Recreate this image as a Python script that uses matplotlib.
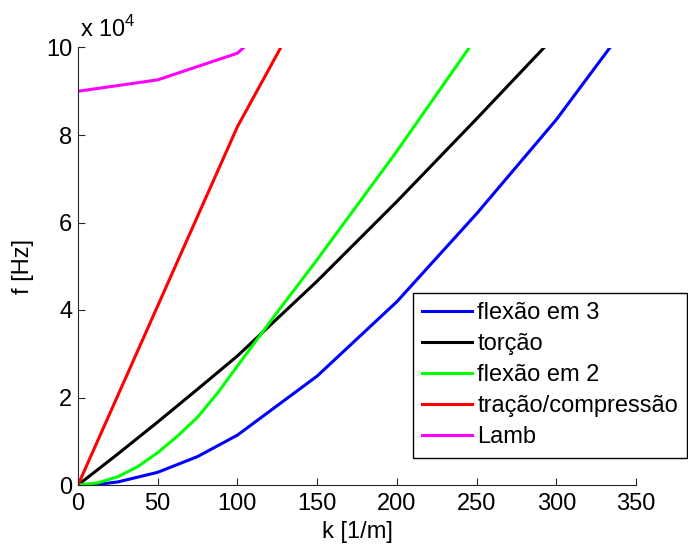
import matplotlib
matplotlib.use("Agg")
import matplotlib.pyplot as plt
from matplotlib.ticker import FuncFormatter

plt.rcParams['font.family'] = ['Liberation Sans', 'DejaVu Sans']
plt.rcParams['mathtext.fontset'] = 'custom'
plt.rcParams['mathtext.rm'] = 'Liberation Sans'

# data (k in 1/m, f in Hz)
k_flex3 = [0, 12.5, 25, 50, 75, 100, 150, 200, 250, 300, 333.7]
f_flex3 = [0, 150, 700, 2900, 6500, 11400, 24900, 41900, 62000, 83500, 100000]

k_torc = [0, 25, 50, 75, 100, 150, 200, 250, 292.4]
f_torc = [0, 7100, 14400, 21900, 29500, 46600, 64800, 83700, 100000]

k_flex2 = [0, 12.5, 25, 37.5, 50, 62.5, 75, 87.5, 100, 125, 150, 200, 245.5]
f_flex2 = [0, 500, 1900, 4200, 7400, 11200, 15500, 21000, 27200, 39500, 51500, 76300, 100000]

k_trac = [0, 50, 100, 127.2]
f_trac = [0, 40950, 81900, 100000]

k_lamb = [0, 50, 100, 104]
f_lamb = [90000, 92600, 98700, 100000]

labels = ['flexão em 3', 'torção', 'flexão em 2', 'tração/compressão', 'Lamb']
colors = ['#0000ff', '#000000', '#00ff00', '#ff0000', '#ff00ff']

FS = 17

fig = plt.figure(figsize=(6.88, 5.44), dpi=100)
ax = fig.add_axes([78/688, 1-485/544, (636-78)/688, (485-47.5)/544])

series = [(k_flex3, f_flex3), (k_torc, f_torc), (k_flex2, f_flex2),
          (k_trac, f_trac), (k_lamb, f_lamb)]
for (k, f), lab, c in zip(series, labels, colors):
    ax.plot(k, f, color=c, lw=2.2, label=lab, solid_joinstyle='round')

ax.set_xlim(0, 350)
ax.set_ylim(0, 100000)
ax.set_xticks(range(0, 351, 50))
ax.set_yticks(range(0, 100001, 20000))
ax.yaxis.set_major_formatter(FuncFormatter(lambda v, p: f"{v/1e4:g}"))

for s in ['top', 'right']:
    ax.spines[s].set_visible(False)
for s in ['left', 'bottom']:
    ax.spines[s].set_color('#262626')
    ax.spines[s].set_linewidth(0.8)
ax.tick_params(direction='in', length=5, width=0.8, colors='#262626',
               labelsize=FS, labelcolor='black')
ax.tick_params(axis='x', pad=6)
ax.tick_params(axis='y', pad=4)

ax.set_xlabel('k [1/m]', fontsize=FS, labelpad=4)
ax.set_ylabel('f [Hz]', fontsize=FS, labelpad=9)

ax.text(0.003, 1.012, r'x 10$^{\mathrm{4}}$', transform=ax.transAxes,
        fontsize=FS, ha='left', va='bottom')

leg = ax.legend(loc='upper left', bbox_to_anchor=(413/688, 1-293/544),
                bbox_transform=fig.transFigure, fontsize=FS, frameon=True,
                fancybox=False, shadow=False, framealpha=1, edgecolor='black',
                handlelength=2.12, handletextpad=0.2, labelspacing=0.38,
                borderpad=0.4, borderaxespad=0)
leg.get_frame().set_linewidth(1.0)

fig.savefig('out.png', dpi=100)
